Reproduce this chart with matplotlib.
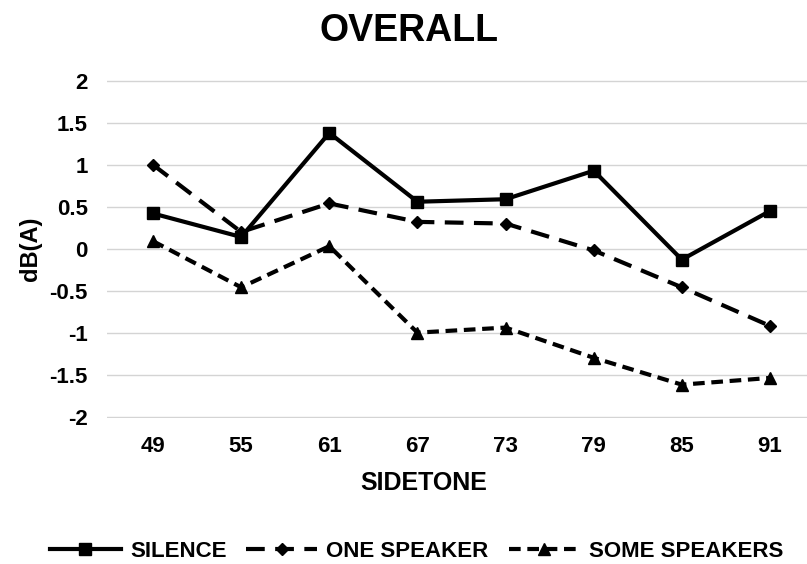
import matplotlib
matplotlib.use("Agg")
import matplotlib.pyplot as plt

categories = ["49", "55", "61", "67", "73", "79", "85", "91"]
silence = [0.42, 0.14, 1.38, 0.56, 0.59, 0.93, -0.13, 0.45]
one_speaker = [1.00, 0.20, 0.54, 0.32, 0.30, -0.02, -0.46, -0.92]
some_speakers = [0.09, -0.46, 0.03, -1.00, -0.94, -1.30, -1.62, -1.54]
yticks = [2, 1.5, 1, 0.5, 0, -0.5, -1, -1.5, -2]
ytick_labels = ["2", "1.5", "1", "0.5", "0", "-0.5", "-1", "-1.5", "-2"]

plt.rcParams['font.family'] = ['Liberation Sans', 'DejaVu Sans']

fig = plt.figure(figsize=(8.07, 5.64), dpi=100)
ax = fig.add_axes([0.1326, 0.2585, 0.8674, 0.601])

x = list(range(len(categories)))
ax.plot(x, silence, color='black', lw=3, marker='s', ms=9, label='SILENCE')
ax.plot(x, one_speaker, color='black', lw=3, marker='D', ms=6, dashes=(4.5, 2.5), label='ONE SPEAKER')
ax.plot(x, some_speakers, color='black', lw=3, marker='^', ms=8, dashes=(2.8, 1.6), label='SOME SPEAKERS')

ax.set_xlim(-0.522, 7.42)
ax.set_ylim(-2.02, 2.02)
ax.set_yticks(yticks)
ax.set_yticklabels(ytick_labels)
ax.set_xticks(x)
ax.set_xticklabels(categories)
for s in ax.spines.values():
    s.set_visible(False)
ax.tick_params(length=0, labelsize=16)
ax.tick_params(axis='y', pad=13.7)
ax.tick_params(axis='x', pad=13)
for lab in ax.get_xticklabels() + ax.get_yticklabels():
    lab.set_fontweight('bold')
ax.grid(axis='y', color='#d4d4d4', lw=1)
ax.set_axisbelow(True)

ax.set_xlabel('SIDETONE', fontsize=18, fontweight='bold')
ax.xaxis.set_label_coords(0.452, -0.155)
ax.set_ylabel('dB(A)', fontsize=17, fontweight='bold')
ax.yaxis.set_label_coords(-0.093, 0.5)
fig.text(0.507, 0.945, 'OVERALL', fontsize=27, fontweight='bold', ha='center', va='center')

leg = fig.legend(loc='center', bbox_to_anchor=(0.516, 0.023), ncol=3, frameon=False,
                 handlelength=3.2, columnspacing=0.9, handletextpad=0.4,
                 prop={'weight': 'bold', 'size': 16})

fig.savefig('out.png', dpi=100)
